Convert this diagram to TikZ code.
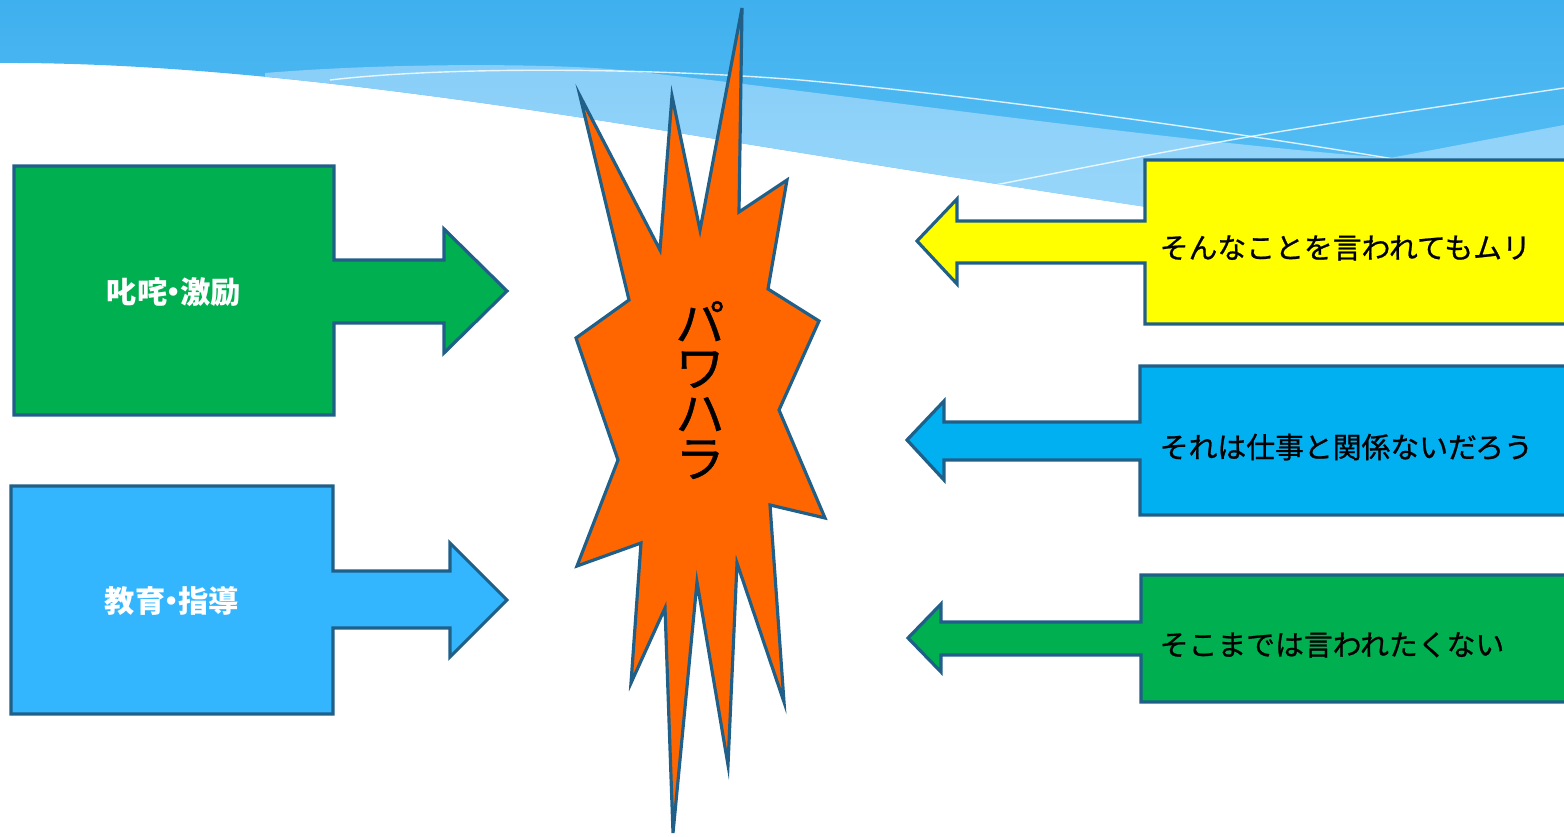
\documentclass[tikz,border=0pt]{standalone}
\usepackage{fontspec}
\setmainfont{Noto Sans CJK JP}
\newfontfamily\heavyfont[FakeBold=0.8]{Noto Sans CJK JP}

\definecolor{skytop}{HTML}{3FB0EE}
\definecolor{skylow}{HTML}{62C5F7}
\definecolor{wavetop}{HTML}{88CEF8}
\definecolor{wavelow}{HTML}{A2DCFB}
\definecolor{edge}{HTML}{1F5F88}
\definecolor{leafgreen}{HTML}{00B050}
\definecolor{paleblue}{HTML}{33B6FE}
\definecolor{cyanblue}{HTML}{00B0F0}
\definecolor{lemon}{HTML}{FFFF00}
\definecolor{burst}{HTML}{FF6600}

\tikzset{
  callout/.style={draw=edge, line width=0.9pt, line join=miter},
  say/.style={font=\heavyfont\fontsize{8.2}{9}\selectfont, inner sep=0pt, anchor=west},
  cheer/.style={font=\fontsize{8.6}{9}\selectfont\bfseries, text=white, inner sep=0pt},
}
\newcommand\middot{\kern-0.28em・\kern-0.28em}

\begin{document}
\begin{tikzpicture}[x=0.01cm, y=-0.01cm]
  \useasboundingbox (0,0) rectangle (1564,837);
  \clip (0,0) rectangle (1564,837);

  % sky band and wave
  \begin{scope}
    \clip (0,0) -- (1564,0) -- (1564,270)
      .. controls (1000,185) .. (740,143)
      .. controls (480,100) and (220,62) .. (0,63) -- cycle;
    \shade[top color=skytop, bottom color=skylow] (0,0) rectangle (1564,280);
    \shade[top color=wavetop, bottom color=wavelow]
      (265,73) .. controls (400,62) and (560,64) .. (620,70)
      .. controls (800,88) and (1150,140) .. (1390,158)
      -- (1564,125) -- (1564,300) -- (265,300) -- cycle;
    \draw[white, line width=0.4pt, opacity=0.8]
      (330,80) .. controls (450,66) and (650,68) .. (800,80)
      .. controls (1000,98) and (1250,135) .. (1400,160);
    \draw[white, line width=0.4pt, opacity=0.8]
      (995,185) .. controls (1250,135) .. (1564,88);
  \end{scope}

  % left side
  \draw[callout, fill=leafgreen] (14,166) -- (334,166) -- (334,260) -- (444,260)
    -- (444,229) -- (507,291) -- (444,353) -- (444,323) -- (334,323)
    -- (334,415) -- (14,415) -- cycle;
  \node[cheer] (scold) at (174,292) {叱咤\middot 激励};

  \draw[callout, fill=paleblue] (11,486) -- (333,486) -- (333,571) -- (450,571)
    -- (450,543) -- (507,600) -- (450,657) -- (450,628) -- (333,628)
    -- (333,714) -- (11,714) -- cycle;
  \node[cheer] (teach) at (172,601) {教育\middot 指導};

  % burst
  \draw[callout, fill=burst] (742,8) -- (739,212) -- (787,180) -- (768,289)
    -- (819,321) -- (779,410) -- (825,518) -- (770,505) -- (784,702)
    -- (737,563) -- (728,765) -- (697,582) -- (673,833) -- (665,608)
    -- (631,683) -- (641,543) -- (577,566) -- (618,460) -- (576,338)
    -- (629,300) -- (580,96) -- (660,250) -- (672,96) -- (700,230) -- cycle;
  \node[font=\heavyfont\fontsize{14}{12.9}\selectfont, align=center, inner sep=0pt]
    (power) at (700,390) {パ\\ワ\\ハ\\ラ};

  % right side
  \draw[callout, fill=lemon] (1580,160) -- (1145,160) -- (1145,221) -- (957,221)
    -- (957,199) -- (917,241) -- (957,284) -- (957,263) -- (1145,263)
    -- (1145,324) -- (1580,324) -- cycle;
  \node[say] (nope) at (1159,248) {そんなことを言われてもムリ};

  \draw[callout, fill=cyanblue] (1580,366) -- (1140,366) -- (1140,422) -- (944,422)
    -- (944,401) -- (907,440) -- (944,480) -- (944,460) -- (1140,460)
    -- (1140,515) -- (1580,515) -- cycle;
  \node[say] (offtopic) at (1159,447) {それは仕事と関係ないだろう};

  \draw[callout, fill=leafgreen] (1580,575) -- (1141,575) -- (1141,622) -- (941,622)
    -- (941,604) -- (908,638) -- (941,672) -- (941,655) -- (1141,655)
    -- (1141,702) -- (1580,702) -- cycle;
  \node[say] (toofar) at (1159,645) {そこまでは言われたくない};
\end{tikzpicture}
\end{document}
